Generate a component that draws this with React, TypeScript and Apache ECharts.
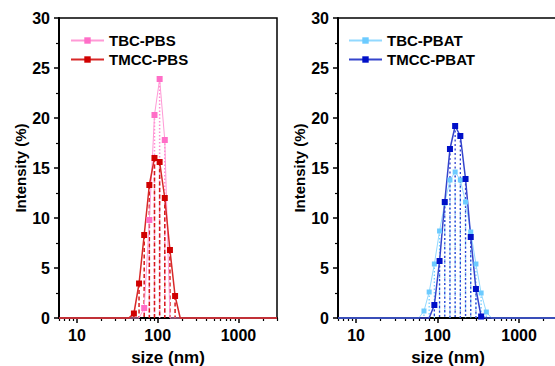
import React, { useEffect, useRef } from "react";
import * as echarts from "echarts";

// axis range and ticks
const X_MIN = 6;
const X_MAX = 3000;
const majorTicks = [10, 100, 1000];
const minorTicks = [6, 7, 8, 9, 20, 30, 40, 50, 60, 70, 80, 90, 200, 300, 400, 500, 600, 700, 800, 900, 2000, 3000];
const Y_MAX = 30;
const Y_STEP = 5;

// left panel (PBS)
const pbsSizes = [43.82, 50.75, 58.77, 68.06, 78.82, 91.28, 105.7, 122.4, 141.8, 164.2, 190.1];
const tbcPbs = [0, 0, 0, 1.0, 9.8, 20.3, 23.9, 17.8, 0, 0, 0];
const tmccPbs = [0, 0.45, 3.45, 8.3, 13.3, 16.0, 15.6, 12.0, 6.8, 2.2, 0];

// right panel (PBAT)
const pbatSizes = [58.77, 68.06, 78.82, 91.28, 105.7, 122.4, 141.8, 164.2, 190.1, 220.2, 255.0, 295.3, 342.0, 396.1, 458.7];
const tbcPbat = [0, 0.7, 2.6, 5.4, 8.7, 11.5, 13.8, 14.6, 13.8, 11.6, 8.6, 5.4, 2.5, 0.6, 0];
const tmccPbat = [0, 0, 0, 1.3, 5.7, 11.6, 16.9, 19.2, 18.2, 13.9, 8.1, 2.9, 0.15, 0, 0];

const FONT = "'Liberation Sans', Arial, sans-serif";

function lineData(sizes: number[], vals: number[]) {
  return [[X_MIN, 0], ...sizes.map((s, i) => [s, vals[i]]), [X_MAX, 0]];
}
function dropData(sizes: number[], vals: number[]) {
  return sizes.map((s, i) => [s, vals[i]]).filter((d) => d[1] > 0);
}

function makeLine(name: string, sizes: number[], vals: number[], axis: number, marker: string, line: string, width: number, size: number) {
  return {
    type: "line",
    name,
    xAxisIndex: axis * 2,
    yAxisIndex: axis,
    data: lineData(sizes, vals),
    symbol: "rect",
    symbolSize: (v: number[]) => (v[1] > 0 ? size : 0),
    showAllSymbol: true,
    itemStyle: { color: marker },
    lineStyle: { color: line, width },
    clip: false,
    z: 5,
  };
}

function makeDrops(sizes: number[], vals: number[], axis: number, color: string, dash: number[], width: number) {
  return {
    type: "custom",
    xAxisIndex: axis * 2,
    yAxisIndex: axis,
    data: dropData(sizes, vals),
    encode: { x: 0, y: 1 },
    silent: true,
    z: 4,
    renderItem: (params: any, api: any) => {
      const p = api.coord([api.value(0), api.value(1)]);
      const b = api.coord([api.value(0), 0]);
      return {
        type: "line",
        shape: { x1: p[0], y1: p[1], x2: b[0], y2: b[1] },
        style: { stroke: color, lineWidth: width, lineDash: dash },
      };
    },
  };
}

function xAxes(grid: number) {
  return [
    {
      type: "log",
      logBase: 10,
      gridIndex: grid,
      position: "bottom",
      min: X_MIN,
      max: X_MAX,
      name: "size (nm)",
      nameLocation: "middle",
      nameGap: 31,
      nameTextStyle: { fontFamily: FONT, fontWeight: "bold", fontSize: 17, color: "#000" },
      axisLine: { show: true, onZero: false, lineStyle: { color: "#000", width: 2 } },
      axisTick: { show: true, inside: false, length: 5, customValues: majorTicks, lineStyle: { color: "#000", width: 1.5 } },
      axisLabel: {
        show: true,
        customValues: majorTicks,
        margin: 9,
        fontFamily: FONT,
        fontWeight: "bold",
        fontSize: 16,
        color: "#000",
        formatter: (v: number) => String(Math.round(v)),
      },
      splitLine: { show: false },
      minorTick: { show: false },
    },
    {
      type: "log",
      logBase: 10,
      gridIndex: grid,
      position: "bottom",
      min: X_MIN,
      max: X_MAX,
      axisLine: { show: false, onZero: false },
      axisTick: { show: true, inside: false, length: 3, customValues: minorTicks, lineStyle: { color: "#000", width: 1.2 } },
      axisLabel: { show: false },
      splitLine: { show: false },
    },
  ];
}

function yAxis(grid: number) {
  return {
    type: "value",
    gridIndex: grid,
    min: 0,
    max: Y_MAX,
    interval: Y_STEP,
    name: "Intensity (%)",
    nameLocation: "middle",
    nameGap: 30,
    nameTextStyle: { fontFamily: FONT, fontWeight: "bold", fontSize: 15, color: "#000" },
    axisLine: { show: true, lineStyle: { color: "#000", width: 2 } },
    axisTick: { show: true, inside: false, length: 5, lineStyle: { color: "#000", width: 1.5 } },
    minorTick: { show: true, splitNumber: 2, length: 3, lineStyle: { color: "#000", width: 1.2 } },
    axisLabel: { margin: 9, fontFamily: FONT, fontWeight: "bold", fontSize: 16, color: "#000" },
    splitLine: { show: false },
    minorSplitLine: { show: false },
  };
}

function legend(left: number, names: string[]) {
  return {
    orient: "vertical",
    left,
    top: 33,
    padding: 0,
    itemWidth: 33,
    itemHeight: 8,
    itemGap: 4,
    data: names,
    textStyle: { fontFamily: FONT, fontWeight: "bold", fontSize: 15, color: "#000" },
  };
}

export default function App() {
  const ref = useRef<HTMLDivElement>(null);
  useEffect(() => {
    if (!ref.current) return;
    const chart = echarts.init(ref.current, undefined, { renderer: "svg" });
    chart.setOption({
      animation: false,
      backgroundColor: "#fff",
      grid: [
        { left: 59, top: 18, width: 218, height: 300, show: true, borderColor: "#000", borderWidth: 1.5, backgroundColor: "transparent", containLabel: false, outerBoundsMode: "none" },
        { left: 338, top: 18, width: 220, height: 300, show: true, borderColor: "#000", borderWidth: 1.5, backgroundColor: "transparent", containLabel: false, outerBoundsMode: "none" },
      ],
      xAxis: [...xAxes(0), ...xAxes(1)],
      yAxis: [yAxis(0), yAxis(1)],
      legend: [legend(70, ["TBC-PBS", "TMCC-PBS"]), legend(348, ["TBC-PBAT", "TMCC-PBAT"])],
      series: [
        makeDrops(pbsSizes, tbcPbs, 0, "#FF8CD2", [1.5, 2], 1.5),
        makeLine("TBC-PBS", pbsSizes, tbcPbs, 0, "#FF6EC7", "#FF9AD6", 1, 6),
        makeDrops(pbsSizes, tmccPbs, 0, "#D61A1A", [4, 2.5], 1.5),
        makeLine("TMCC-PBS", pbsSizes, tmccPbs, 0, "#D00000", "#D82828", 1.5, 6),
        makeDrops(pbatSizes, tbcPbat, 1, "#70CCFF", [1.5, 2], 1.3),
        makeLine("TBC-PBAT", pbatSizes, tbcPbat, 1, "#6CCBFF", "#92D9FF", 1, 5),
        makeDrops(pbatSizes, tmccPbat, 1, "#3040D0", [2, 2.5], 1.3),
        makeLine("TMCC-PBAT", pbatSizes, tmccPbat, 1, "#0010C8", "#3444CC", 1.5, 6),
      ],
    });
    return () => chart.dispose();
  }, []);
  return <div ref={ref} style={{ position: "fixed", left: 0, top: 0, width: 555, height: 366 }} />;
}
